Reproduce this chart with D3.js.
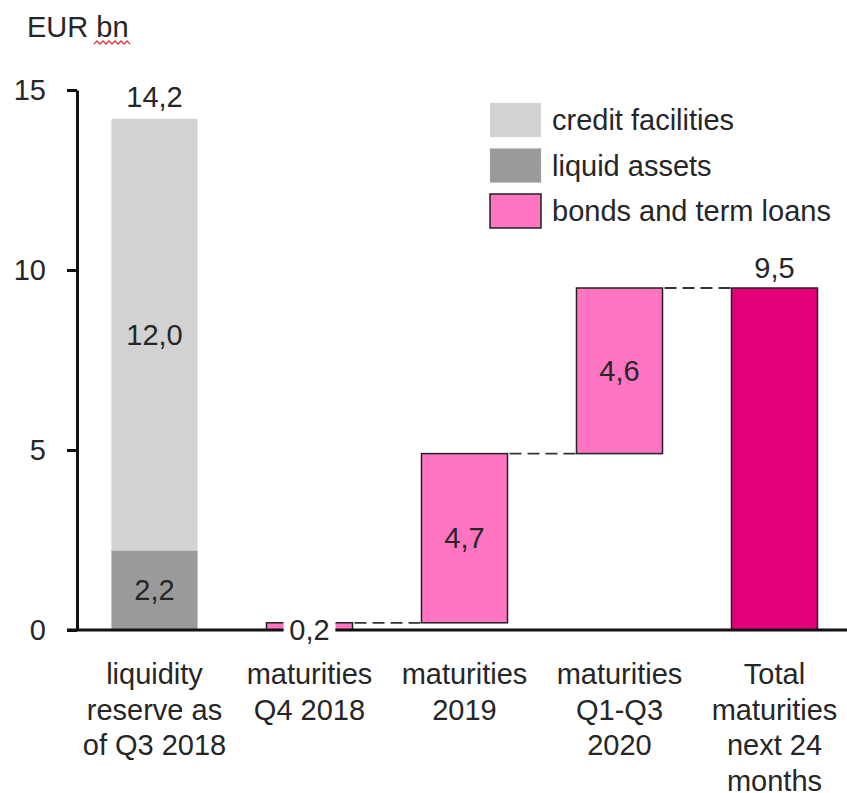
<!DOCTYPE html>
<html>
<head>
<meta charset="utf-8">
<script src="https://cdn.jsdelivr.net/npm/d3@7"></script>
<style>
  body { margin: 0; background: #fff; }
  text { font-family: "Liberation Sans", Arial, sans-serif; fill: #262626; }
</style>
</head>
<body>
<div id="chart"></div>
<script>
// chart values
const categories = ['reserve', 'q4-2018', '2019', 'q1q3-2020', 'total'];
const categoryLines = [
    ['liquidity', 'reserve as', 'of Q3 2018'],
    ['maturities', 'Q4 2018'],
    ['maturities', '2019'],
    ['maturities', 'Q1-Q3', '2020'],
    ['Total', 'maturities', 'next 24', 'months']
];
const liquidAssets = 2.2;
const creditFacilities = 12.0;
const reserveTotal = 14.2;
const maturities = [0.2, 4.7, 4.6];   // Q4 2018, 2019, Q1-Q3 2020
const totalMaturities = 9.5;
const yTicks = [0, 5, 10, 15];
const legendItems = ['credit facilities', 'liquid assets', 'bonds and term loans'];

const colors = {
    credit: '#d2d2d2',
    liquid: '#9a9a9a',
    bonds: '#ff75c1',
    total: '#e2007a'
};

const fmt = v => d3.format('.1f')(v).replace('.', ',');

const config = {
    width: 847,
    height: 793,
    fontSize: 29
};

const svg = d3.select('#chart')
    .append('svg')
    .attr('width', config.width)
    .attr('height', config.height);

const x = d3.scaleBand()
    .domain(categories)
    .range([77, 852])
    .paddingInner(0.445)
    .paddingOuter(0.2225);

const y = d3.scaleLinear()
    .domain([0, 15])
    .range([630, 90]);

// unit label
svg.append('text')
    .attr('x', 27)
    .attr('y', 37)
    .style('font-size', config.fontSize + 'px')
    .text('EUR bn');

// spell-check squiggle under "bn"
let squiggle = [];
for (let px = 94; px <= 131; px += 3) {
    squiggle.push([px, (Math.round((px - 94) / 3) % 2) ? 41 : 44]);
}
svg.append('path')
    .attr('d', d3.line()(squiggle))
    .attr('fill', 'none')
    .attr('stroke', '#e03a3a')
    .attr('stroke-width', 1.3);

// y axis
const yAxis = svg.append('g')
    .attr('transform', 'translate(77,0)')
    .call(d3.axisLeft(y).tickValues(yTicks).tickSize(10).tickPadding(21).tickSizeOuter(0));
yAxis.select('.domain').attr('stroke', '#111').attr('stroke-width', 3);
yAxis.selectAll('.tick line').attr('stroke', '#111').attr('stroke-width', 3);
yAxis.selectAll('.tick text')
    .style('font-size', config.fontSize + 'px')
    .style('font-family', '"Liberation Sans", Arial, sans-serif')
    .attr('fill', '#262626');

// liquidity reserve stacked bar
const bw = x.bandwidth();
svg.append('rect')
    .attr('x', x('reserve'))
    .attr('y', y(reserveTotal))
    .attr('width', bw)
    .attr('height', y(liquidAssets) - y(reserveTotal))
    .attr('fill', colors.credit);
svg.append('rect')
    .attr('x', x('reserve'))
    .attr('y', y(liquidAssets))
    .attr('width', bw)
    .attr('height', y(0) - y(liquidAssets))
    .attr('fill', colors.liquid)
    .attr('stroke', '#b8b8b8')
    .attr('stroke-width', 1)
    .attr('stroke-dasharray', '1,2');

// waterfall of maturities
let base = 0;
const steps = maturities.map((v, i) => {
    const s = { key: categories[i + 1], start: base, end: base + v, value: v };
    base += v;
    return s;
});

svg.selectAll('.step')
    .data(steps)
    .enter()
    .append('rect')
    .attr('class', 'step')
    .attr('x', d => x(d.key))
    .attr('y', d => y(d.end))
    .attr('width', bw)
    .attr('height', d => y(d.start) - y(d.end))
    .attr('fill', colors.bonds)
    .attr('stroke', '#222')
    .attr('stroke-width', 1.5);

svg.append('rect')
    .attr('x', x('total'))
    .attr('y', y(totalMaturities))
    .attr('width', bw)
    .attr('height', y(0) - y(totalMaturities))
    .attr('fill', colors.total)
    .attr('stroke', '#222')
    .attr('stroke-width', 1.5);

// dashed connectors
const connectors = steps.map((d, i) => ({
    x1: x(d.key) + bw,
    x2: x(categories[i + 2]),
    v: d.end
}));
svg.selectAll('.connector')
    .data(connectors)
    .enter()
    .append('line')
    .attr('class', 'connector')
    .attr('x1', d => d.x1 + 2)
    .attr('x2', d => d.x2 - 1)
    .attr('y1', d => y(d.v))
    .attr('y2', d => y(d.v))
    .attr('stroke', '#333')
    .attr('stroke-width', 1.8)
    .attr('stroke-dasharray', '12,6');

// value labels
const cx = k => x(k) + bw / 2;
const label = (px, py, txt) => svg.append('text')
    .attr('x', px)
    .attr('y', py)
    .attr('text-anchor', 'middle')
    .style('font-size', config.fontSize + 'px')
    .text(txt);

label(cx('reserve'), y(reserveTotal) - 12, fmt(reserveTotal));
label(cx('reserve'), (y(reserveTotal) + y(liquidAssets)) / 2 + 10, fmt(creditFacilities));
label(cx('reserve'), (y(liquidAssets) + y(0)) / 2 + 10, fmt(liquidAssets));
label(cx('total'), y(totalMaturities) - 10, fmt(totalMaturities));

steps.forEach((d, i) => {
    if (i === 0) {
        // small step: label sits on a white box over the bar
        svg.append('rect')
            .attr('x', cx(d.key) - 26)
            .attr('y', y(d.end) - 10)
            .attr('width', 52)
            .attr('height', 22)
            .attr('fill', '#fff');
        label(cx(d.key), y(0) + 10, fmt(d.value));
    } else {
        label(cx(d.key), (y(d.start) + y(d.end)) / 2 + 10, fmt(d.value));
    }
});

// x axis line, broken behind the small label
const gapLeft = cx('q4-2018') - 26;
const gapRight = cx('q4-2018') + 26;
[[67, gapLeft], [gapRight, 847]].forEach(seg => {
    svg.append('line')
        .attr('x1', seg[0])
        .attr('x2', seg[1])
        .attr('y1', y(0))
        .attr('y2', y(0))
        .attr('stroke', '#111')
        .attr('stroke-width', 3);
});

// category labels
categories.forEach((c, i) => {
    const t = svg.append('text')
        .attr('text-anchor', 'middle')
        .style('font-size', config.fontSize + 'px');
    categoryLines[i].forEach((line, j) => {
        t.append('tspan')
            .attr('x', cx(c))
            .attr('y', 684 + j * 35.7)
            .text(line);
    });
});

// legend
const legendColors = [colors.credit, colors.liquid, colors.bonds];
const legend = svg.selectAll('.legend')
    .data(legendItems)
    .enter()
    .append('g')
    .attr('class', 'legend')
    .attr('transform', (d, i) => `translate(490, ${103 + i * 45.5})`);

legend.append('rect')
    .attr('width', 51)
    .attr('height', 34)
    .attr('fill', (d, i) => legendColors[i])
    .attr('stroke', (d, i) => i === 2 ? '#222' : (i === 1 ? '#b8b8b8' : 'none'))
    .attr('stroke-width', (d, i) => i === 2 ? 1.5 : 1)
    .attr('stroke-dasharray', (d, i) => i === 1 ? '1,2' : null);

legend.append('text')
    .attr('x', 62)
    .attr('y', 27)
    .style('font-size', config.fontSize + 'px')
    .text(d => d);
</script>
</body>
</html>
